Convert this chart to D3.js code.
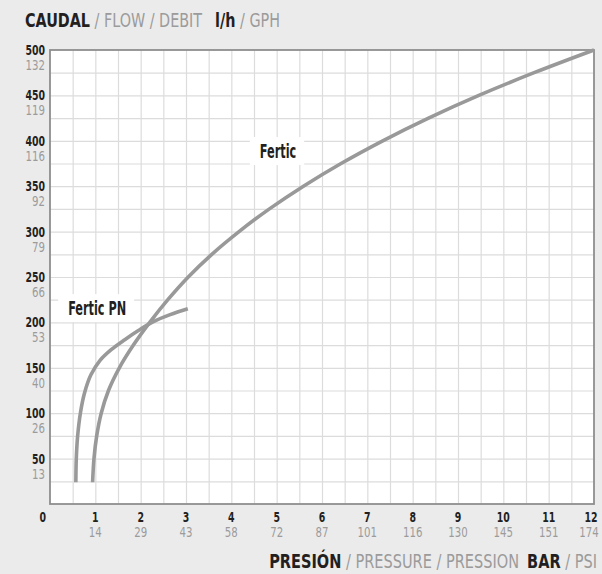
<!DOCTYPE html>
<html>
<head>
<meta charset="utf-8">
<script src="https://cdn.jsdelivr.net/npm/d3@7"></script>
<style>
  body { margin: 0; background: #ebebeb; }
  svg { display: block; }
  text { font-family: "DejaVu Sans Condensed", "DejaVu Sans", sans-serif; }
</style>
</head>
<body>
<svg></svg>
<script>
// flow ticks (l/h) and their GPH labels as printed
var flowTicks = [50, 100, 150, 200, 250, 300, 350, 400, 450, 500];
var gphLabels = ["13", "26", "40", "53", "66", "79", "92", "116", "119", "132"];

// pressure ticks (bar) and their PSI labels as printed
var barTicks = [1, 2, 3, 4, 5, 6, 7, 8, 9, 10, 11, 12];
var psiLabels = ["14", "29", "43", "58", "72", "87", "101", "116", "130", "145", "151", "174"];

// curves: pressure in bar, flow in l/h
var ferticPressure = [0.94, 0.97, 1.03, 1.13, 1.29, 1.53, 1.84, 2.2, 2.6, 3.05, 3.57, 4.17, 4.84, 5.59, 6.42, 7.34, 8.35, 9.46, 10.68, 12];
var ferticFlow     = [24, 50, 75, 100, 125, 150, 175, 200, 225, 250, 275, 300, 325, 350, 375, 400, 425, 450, 475, 500];
var pnPressure = [0.57, 0.58, 0.61, 0.67, 0.76, 0.9, 1.1, 1.35, 1.65, 1.95, 2.25, 2.65, 3.04];
var pnFlow     = [24, 50, 75, 100, 122, 142, 158, 170, 181, 191, 200, 208.5, 215];

var width = 602;
var height = 574;
var plotLeft = 50, plotRight = 594, plotTop = 50, plotBottom = 504;

var dark = "#231f20";
var grey = "#9b9b9b";

var svg = d3.select("svg")
    .attr("width", width)
    .attr("height", height);

var xScale = d3.scaleLinear().domain([0, 12]).range([plotLeft, plotRight]);
var yScale = d3.scaleLinear().domain([0, 500]).range([plotBottom, plotTop]);

// narrow the glyphs to look like the condensed font of the original
function squeeze(sel, k) {
  sel.each(function () {
    var len = this.getComputedTextLength();
    d3.select(this)
        .attr("textLength", len * k)
        .attr("lengthAdjust", "spacingAndGlyphs");
  });
}

// plot background
svg.append("rect")
    .attr("x", plotLeft)
    .attr("y", plotTop)
    .attr("width", plotRight - plotLeft)
    .attr("height", plotBottom - plotTop)
    .attr("fill", "#fff");

// grid every half bar and every 25 l/h
var xGrid = d3.axisBottom(xScale)
    .tickValues(d3.range(0.5, 12, 0.5))
    .tickSize(-(plotBottom - plotTop))
    .tickSizeOuter(0)
    .tickFormat("");
var yGrid = d3.axisLeft(yScale)
    .tickValues(d3.range(25, 500, 25))
    .tickSize(-(plotRight - plotLeft))
    .tickSizeOuter(0)
    .tickFormat("");

svg.append("g")
    .attr("transform", "translate(0," + plotBottom + ")")
    .call(xGrid)
    .call(g => g.select(".domain").remove())
    .selectAll("line").attr("stroke", "#dcdcdc").attr("stroke-width", 1.2);
svg.append("g")
    .attr("transform", "translate(" + plotLeft + ",0)")
    .call(yGrid)
    .call(g => g.select(".domain").remove())
    .selectAll("line").attr("stroke", "#dcdcdc").attr("stroke-width", 1.2);

// frame
svg.append("rect")
    .attr("x", plotLeft)
    .attr("y", plotTop)
    .attr("width", plotRight - plotLeft)
    .attr("height", plotBottom - plotTop)
    .attr("fill", "none")
    .attr("stroke", "#8e8e8e")
    .attr("stroke-width", 1.8);

// curves
var line = d3.line()
    .x(d => xScale(d[0]))
    .y(d => yScale(d[1]))
    .curve(d3.curveCatmullRom.alpha(0.5));

[[ferticPressure, ferticFlow], [pnPressure, pnFlow]].forEach(function (s) {
  svg.append("path")
      .datum(d3.zip(s[0], s[1]))
      .attr("d", line)
      .attr("fill", "none")
      .attr("stroke", "#999")
      .attr("stroke-width", 3.6);
});

// curve labels on white boxes
function label(text, x, y) {
  var g = svg.append("g");
  var t = g.append("text")
      .attr("x", x)
      .attr("y", y)
      .attr("text-anchor", "middle")
      .attr("font-size", 19)
      .attr("font-weight", "bold")
      .attr("fill", dark)
      .text(text);
  squeeze(t, 0.66);
  var b = t.node().getBBox();
  g.insert("rect", "text")
      .attr("x", b.x - 10)
      .attr("y", b.y - 3)
      .attr("width", b.width + 18)
      .attr("height", b.height + 6)
      .attr("fill", "#fff");
}
label("Fertic", xScale(5.03), yScale(381));
label("Fertic PN", xScale(1.04), yScale(208));

// y labels: l/h bold, GPH grey underneath
svg.append("g").selectAll("text")
  .data(flowTicks)
  .enter()
  .append("text")
    .attr("x", 45)
    .attr("y", d => yScale(d) + 5)
    .attr("text-anchor", "end")
    .attr("font-size", 14.5)
    .attr("font-weight", "bold")
    .attr("fill", dark)
    .text(d => d)
    .call(squeeze, 0.72);
svg.append("g").selectAll("text")
  .data(flowTicks)
  .enter()
  .append("text")
    .attr("x", 45)
    .attr("y", d => yScale(d) + 20)
    .attr("text-anchor", "end")
    .attr("font-size", 14.5)
    .attr("fill", grey)
    .text((d, i) => gphLabels[i])
    .call(squeeze, 0.78);

// x labels: bar bold, PSI grey underneath
svg.append("text")
    .attr("x", 46)
    .attr("y", 522)
    .attr("text-anchor", "end")
    .attr("font-size", 14.5)
    .attr("font-weight", "bold")
    .attr("fill", dark)
    .text("0")
    .call(squeeze, 0.72);
svg.append("g").selectAll("text")
  .data(barTicks)
  .enter()
  .append("text")
    .attr("x", d => xScale(d) + (d == 12 ? -3 : 0))
    .attr("y", 522)
    .attr("text-anchor", "middle")
    .attr("font-size", 14.5)
    .attr("font-weight", "bold")
    .attr("fill", dark)
    .text(d => d)
    .call(squeeze, 0.72);
svg.append("g").selectAll("text")
  .data(barTicks)
  .enter()
  .append("text")
    .attr("x", d => xScale(d) + (d == 12 ? -5 : 0))
    .attr("y", 537)
    .attr("text-anchor", "middle")
    .attr("font-size", 14.5)
    .attr("fill", grey)
    .text((d, i) => psiLabels[i])
    .call(squeeze, 0.78);

// axis titles
var yTitle = svg.append("text")
    .attr("x", 25)
    .attr("y", 27)
    .attr("font-size", 19)
    .attr("font-weight", "bold");
yTitle.append("tspan").attr("fill", dark).text("CAUDAL");
yTitle.append("tspan").attr("fill", grey).attr("font-weight", "normal").text(" / FLOW / DEBIT");
yTitle.append("tspan").attr("fill", dark).attr("dx", 13).text("l/h");
yTitle.append("tspan").attr("fill", grey).attr("font-weight", "normal").text(" / GPH");
squeeze(yTitle.selectAll("tspan"), 0.84);

var xTitle = svg.append("text")
    .attr("x", 597)
    .attr("y", 568)
    .attr("text-anchor", "end")
    .attr("font-size", 19)
    .attr("font-weight", "bold");
xTitle.append("tspan").attr("fill", dark).text("PRESIÓN");
xTitle.append("tspan").attr("fill", grey).attr("font-weight", "normal").text(" / PRESSURE / PRESSION");
xTitle.append("tspan").attr("fill", dark).attr("dx", 8).text("BAR");
xTitle.append("tspan").attr("fill", grey).attr("font-weight", "normal").text(" / PSI");
squeeze(xTitle.selectAll("tspan"), 0.85);
</script>
</body>
</html>
